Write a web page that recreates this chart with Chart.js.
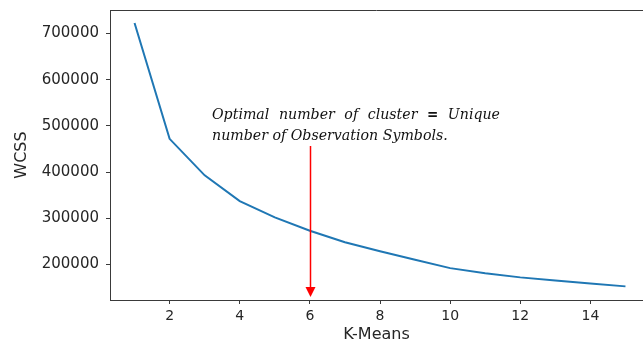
<!DOCTYPE html>
<html>
<head>
<meta charset="utf-8">
<script src="https://cdn.jsdelivr.net/npm/chart.js@4/dist/chart.umd.min.js"></script>
<style>
  html, body { margin: 0; padding: 0; background: #fff; }
  #wrap { width: 643px; height: 344px; }
</style>
</head>
<body>
<div id="wrap"><canvas id="elbowChart" width="643" height="344"></canvas></div>
<script>
// Elbow curve data
const kValues = [1, 2, 3, 4, 5, 6, 7, 8, 9, 10, 11, 12, 13, 14, 15];
const wcss = [723000, 472000, 393000, 337000, 302000, 273000, 248000, 228500,
              210000, 192000, 181000, 172000, 165000, 158500, 152500];
const xTicks = [2, 4, 6, 8, 10, 12, 14];
const yTicks = [200000, 300000, 400000, 500000, 600000, 700000];
const optimalK = 6;
const noteLines = ['Optimal number of cluster = Unique', 'number of Observation Symbols.'];

const axisColor = '#3a3a3a';
const textColor = '#262626';
const noteFont = '"DejaVu Serif"';

// Annotation: justified italic note + red arrow pointing at k = 6
const notePlugin = {
  id: 'note',
  afterDraw(chart) {
    const { ctx, chartArea, scales } = chart;
    ctx.save();

    // top spine
    ctx.strokeStyle = axisColor;
    ctx.lineWidth = 1;
    ctx.beginPath();
    ctx.moveTo(chartArea.left, chartArea.top + 0.5);
    ctx.lineTo(chartArea.right, chartArea.top + 0.5);
    ctx.stroke();

    // note text, sized so line 2 spans the same width as in the picture
    const left = 212;
    ctx.fillStyle = '#111';
    ctx.textBaseline = 'alphabetic';
    let size = 16;
    ctx.font = `italic ${size}px ${noteFont}`;
    size = size * 236 / ctx.measureText(noteLines[1]).width;
    const italic = `italic ${size}px ${noteFont}`;
    const eq = `bold ${size * 0.95}px "DejaVu Sans"`;

    // line 1, justified to width 288
    const words = noteLines[0].split(' ');
    const widths = words.map(w => {
      ctx.font = w === '=' ? eq : italic;
      return ctx.measureText(w).width;
    });
    const total = widths.reduce((a, b) => a + b, 0);
    const gap = (288 - total) / (words.length - 1);
    let x = left;
    words.forEach((w, i) => {
      ctx.font = w === '=' ? eq : italic;
      ctx.fillText(w, x, 119);
      x += widths[i] + gap;
    });
    ctx.font = italic;
    ctx.fillText(noteLines[1], left, 140);

    // arrow
    const ax = Math.round(scales.x.getPixelForValue(optimalK)) + 0.5;
    const tip = chartArea.bottom - 3;
    ctx.strokeStyle = '#ff0000';
    ctx.fillStyle = '#ff0000';
    ctx.lineWidth = 1.5;
    ctx.beginPath();
    ctx.moveTo(ax, 146);
    ctx.lineTo(ax, tip - 8);
    ctx.stroke();
    ctx.beginPath();
    ctx.moveTo(ax - 5, tip - 10);
    ctx.lineTo(ax + 5, tip - 10);
    ctx.lineTo(ax, tip);
    ctx.closePath();
    ctx.fill();

    ctx.restore();
  }
};

const elbowChart = new Chart('elbowChart', {
  type: 'line',
  data: {
    datasets: [{
      label: 'WCSS',
      data: kValues.map((k, i) => ({ x: k, y: wcss[i] })),
      borderColor: '#1f77b4',
      borderWidth: 2,
      pointRadius: 0,
      fill: false,
      tension: 0
    }]
  },
  options: {
    responsive: false,
    animation: false,
    devicePixelRatio: 1,
    layout: { padding: { top: 10, right: 0, left: 0, bottom: 0 } },
    plugins: {
      legend: { display: false },
      tooltip: { enabled: false }
    },
    scales: {
      x: {
        type: 'linear',
        min: 0.3,
        max: 15.5,
        afterBuildTicks: s => { s.ticks = xTicks.map(v => ({ value: v })); },
        afterFit: s => { s.height = 44; s.paddingLeft = 0; s.paddingRight = 0; },
        ticks: {
          color: textColor,
          font: { family: 'DejaVu Sans', size: 14 },
          padding: 4,
          maxRotation: 0
        },
        grid: { drawOnChartArea: false, drawTicks: true, tickLength: 4, color: axisColor },
        border: { display: true, color: axisColor, width: 1 },
        title: {
          display: true,
          text: 'K-Means',
          color: textColor,
          font: { family: 'DejaVu Sans', size: 16 },
          padding: { top: 0, bottom: 0 }
        }
      },
      y: {
        min: 123000,
        max: 751000,
        afterBuildTicks: s => { s.ticks = yTicks.map(v => ({ value: v })); },
        afterFit: s => { s.width = 110; s.paddingTop = 0; s.paddingBottom = 0; },
        ticks: {
          color: textColor,
          font: { family: 'DejaVu Sans', size: 15 },
          padding: 7,
          callback: v => String(v)
        },
        grid: { drawOnChartArea: false, drawTicks: true, tickLength: 4, color: axisColor },
        border: { display: true, color: axisColor, width: 1 },
        title: {
          display: true,
          text: 'WCSS',
          color: textColor,
          font: { family: 'DejaVu Sans', size: 16 },
          padding: { top: 12, bottom: 0 }
        }
      }
    }
  },
  plugins: [notePlugin]
});
</script>
</body>
</html>
